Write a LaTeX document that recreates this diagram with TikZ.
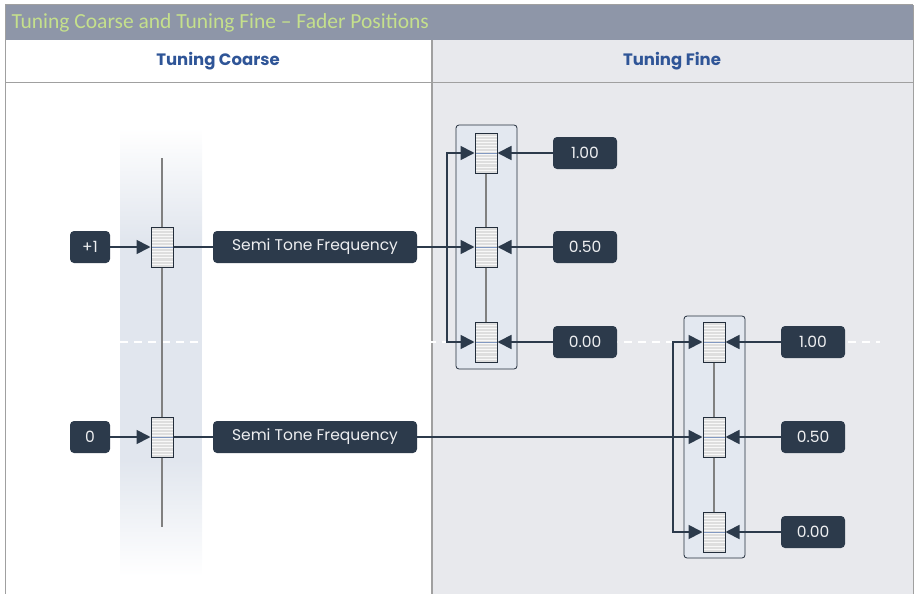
\documentclass[tikz,border=0pt]{standalone}
\usepackage{fontspec}
\setmainfont{Poppins}
\newfontfamily\titlefont{Carlito}
\usepackage{xcolor}
\definecolor{titlebar}{RGB}{142,150,168}
\definecolor{titletext}{RGB}{197,224,140}
\definecolor{headblue}{RGB}{47,85,151}
\definecolor{finebg}{RGB}{232,233,237}
\definecolor{band}{RGB}{225,230,238}
\definecolor{navy}{RGB}{44,58,75}
\definecolor{groupfill}{RGB}{227,232,240}
\definecolor{knobfill}{RGB}{222,222,222}
\definecolor{rule}{RGB}{160,160,160}
\usetikzlibrary{arrows.meta, positioning, calc}

\begin{document}
\begin{tikzpicture}[
    x=1pt, y=-1pt,
    >={Triangle[length=14pt,width=14pt]},
    valbox/.style={fill=navy, text=white!92!navy, rounded corners=4pt, minimum height=32pt, inner xsep=6pt, font=\fontsize{15.5}{17}\selectfont},
    knob/.style={draw=navy!80!black, line width=1pt, fill=knobfill, minimum width=22pt, minimum height=40pt, inner sep=0pt,
      path picture={
        \foreach \i in {1,...,12}
          \draw[white!80!knobfill, line width=0.6pt] ($(path picture bounding box.north west)!\i/13!(path picture bounding box.south west)$) -- ++(22,0);
        \draw[headblue!60, line width=0.6pt] (path picture bounding box.west) -- (path picture bounding box.east);
      }},
    group/.style={draw=navy!80!black, fill=groupfill, rounded corners=3pt, line width=0.8pt},
    track/.style={draw=gray, line width=1.2pt},
    link/.style={navy, line width=1.8pt},
    header/.style={font=\bfseries\fontsize{16.5}{18}\selectfont, text=headblue}
  ]
  \useasboundingbox (0,0) rectangle (915,594);

  % Frame, title bar and column headers
  \fill[finebg] (432,40) rectangle (913,594);
  \fill[titlebar] (5,5) rectangle (913,40);
  \node[anchor=west, text=titletext, font=\titlefont\fontsize{21.5}{23}\selectfont] (title) at (8,23) {Tuning Coarse and Tuning Fine – Fader Positions};
  \draw[rule, line width=1pt] (5,82) -- (913,82);
  \draw[rule, line width=2pt] (432,40) -- (432,594);
  \draw[rule, line width=1pt] (5,5) -- (5,594) (913,5) -- (913,594) (5,5) -- (913,5);
  \node[header] (hcoarse) at (218,61) {Tuning Coarse};
  \node[header] (hfine) at (672,61) {Tuning Fine};

  % Coarse fader band with faded ends
  \shade[top color=white, bottom color=band] (120,128) rectangle (202,240);
  \fill[band] (120,240) rectangle (202,460);
  \shade[top color=band, bottom color=white] (120,460) rectangle (202,576);
  \draw[white, dashed, dash pattern=on 8pt off 6pt, line width=1.2pt] (120,342) -- (880,342);
  \draw[track] (162,158) -- (162,527);

  % Fine fader groups
  \draw[group] (456,125) rectangle (517,369);
  \draw[group] (684,316) rectangle (745,558);
  \draw[track] (486,153) -- (486,342);
  \draw[track] (714,342) -- (714,532);

  % Coarse faders and inputs
  \node[knob] (c1) at (162,247) {};
  \node[knob] (c0) at (162,437) {};
  \node[valbox, minimum width=40pt] (in1) at (90,247) {+1};
  \node[valbox, minimum width=40pt] (in0) at (90,437) {0};
  \node[valbox, minimum width=204pt] (semi1) at (315,247) {Semi Tone Frequency};
  \node[valbox, minimum width=204pt] (semi0) at (315,437) {Semi Tone Frequency};

  % Fine faders and values
  \node[knob] (fa1) at (486,153) {};
  \node[knob] (fa2) at (486,247) {};
  \node[knob] (fa3) at (486,342) {};
  \node[knob] (fb1) at (714,342) {};
  \node[knob] (fb2) at (714,437) {};
  \node[knob] (fb3) at (714,532) {};
  \node[valbox, minimum width=64pt] (va1) at (585,153) {1.00};
  \node[valbox, minimum width=64pt] (va2) at (585,247) {0.50};
  \node[valbox, minimum width=64pt] (va3) at (585,342) {0.00};
  \node[valbox, minimum width=64pt] (vb1) at (813,342) {1.00};
  \node[valbox, minimum width=64pt] (vb2) at (813,437) {0.50};
  \node[valbox, minimum width=64pt] (vb3) at (813,532) {0.00};
  \coordinate (splita) at (447,247);
  \coordinate (splitb) at (673,437);

  % Connectors
  \draw[link, ->] (in1) -- (c1);
  \draw[link, ->] (in0) -- (c0);
  \draw[link] (c1) -- (semi1);
  \draw[link] (c0) -- (semi0);
  \draw[link, ->] (semi1) -- (fa2);
  \draw[link, ->] (splita) |- (fa1.west);
  \draw[link, ->] (splita) |- (fa3.west);
  \draw[link, ->] (semi0) -- (fb2);
  \draw[link, ->] (splitb) |- (fb1.west);
  \draw[link, ->] (splitb) |- (fb3.west);
  \foreach \v/\f in {va1/fa1, va2/fa2, va3/fa3, vb1/fb1, vb2/fb2, vb3/fb3}
    \draw[link, ->] (\v) -- (\f);

\end{tikzpicture}
\end{document}
